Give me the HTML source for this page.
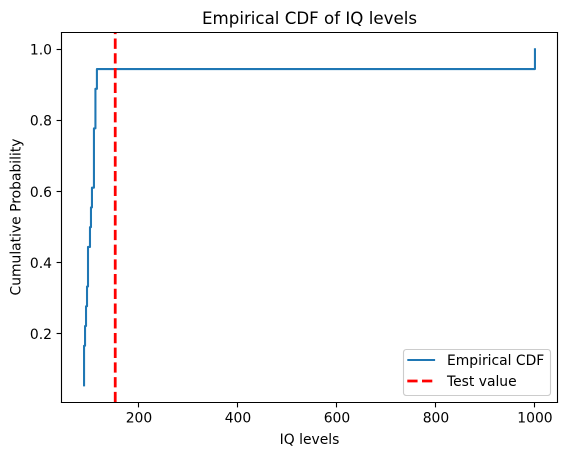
<!DOCTYPE html>
<html>
<head>
<meta charset="utf-8">
<title>Empirical CDF of IQ levels</title>
<style>
html,body{margin:0;padding:0;background:#fff;width:567px;height:455px;overflow:hidden}
svg{display:block}
text{font-family:"DejaVu Sans","Liberation Sans",sans-serif;fill:#000}
</style>
</head>
<body>
<svg id="chart" xmlns="http://www.w3.org/2000/svg" width="567" height="455" viewBox="0 0 567 455">
  <rect x="61.5" y="32.5" width="496" height="369.6" fill="#fff"/>
  <g id="series"></g>
  <g id="ticks"></g>
  <g fill="none" stroke="#000" stroke-width="1.11" stroke-linecap="square">
    <line x1="61.5" y1="32.5" x2="61.5" y2="402.5"/>
    <line x1="557.5" y1="32.5" x2="557.5" y2="402.5"/>
    <line x1="61.5" y1="32.5" x2="557.5" y2="32.5"/>
    <line x1="61.5" y1="402.5" x2="557.5" y2="402.5"/>
  </g>
  <text x="309.5" y="24" text-anchor="middle" font-size="16.67">Empirical CDF of IQ levels</text>
  <text x="309.5" y="444" text-anchor="middle" font-size="13.89">IQ levels</text>
  <text transform="translate(20.5,217) rotate(-90)" text-anchor="middle" font-size="13.89">Cumulative Probability</text>
  <g>
    <rect x="403.5" y="349.5" width="147" height="46" rx="2.8" ry="2.8" fill="#fff" fill-opacity="0.8" stroke="#ccc" stroke-width="1.11"/>
    <line x1="407.3" y1="360" x2="435.1" y2="360" stroke="#1f77b4" stroke-width="2.08"/>
    <text x="447" y="365" font-size="13.89">Empirical CDF</text>
    <line x1="407.3" y1="381" x2="435.1" y2="381" stroke="#f00" stroke-width="2.78" stroke-dasharray="10.28 4.44"/>
    <text x="447" y="386" font-size="13.89">Test value</text>
  </g>
</svg>
<script>
const iqValues = [89, 89, 89, 91, 93, 95, 97, 97, 101, 103, 105, 109, 109, 109, 112, 112, 115, 1000];
const testValue = 152;
const xTickValues = [200, 400, 600, 800, 1000];
const yTickValues = [0.2, 0.4, 0.6, 0.8, 1.0];
const yTickLabels = ['0.2', '0.4', '0.6', '0.8', '1.0'];

const NS = 'http://www.w3.org/2000/svg';
const plot = { left: 61.5, right: 557.5, top: 32.5, bottom: 402.1 };
const n = iqValues.length;
const xMin = Math.min(...iqValues), xMax = Math.max(...iqValues);
const yMin = 1 / n, yMax = 1;
const xPad = (xMax - xMin) * 0.05, yPad = (yMax - yMin) * 0.05;
function xScale(v) {
  return plot.left + (v - (xMin - xPad)) / ((xMax + xPad) - (xMin - xPad)) * (plot.right - plot.left);
}
function yScale(v) {
  return plot.bottom - (v - (yMin - yPad)) / ((yMax + yPad) - (yMin - yPad)) * (plot.bottom - plot.top);
}
function make(tag, attrs, parent) {
  const el = document.createElementNS(NS, tag);
  for (const k in attrs) el.setAttribute(k, attrs[k]);
  parent.appendChild(el);
  return el;
}
const series = document.getElementById('series');
const ticks = document.getElementById('ticks');

let d = 'M' + xScale(iqValues[0]).toFixed(2) + ' ' + yScale(1 / n).toFixed(2);
for (let i = 1; i < n; i++) {
  const px = xScale(iqValues[i]).toFixed(2);
  d += ' L' + px + ' ' + yScale(i / n).toFixed(2);
  d += ' L' + px + ' ' + yScale((i + 1) / n).toFixed(2);
}
const ecdfLine = make('path', { d: d, fill: 'none', stroke: '#1f77b4', 'stroke-width': 2.08, 'stroke-linejoin': 'round', 'stroke-linecap': 'square' }, series);



const testLine = make('line', { x1: xScale(testValue), x2: xScale(testValue), y1: plot.bottom, y2: plot.top, stroke: '#f00', 'stroke-width': 2.78, 'stroke-dasharray': '10.28 4.44' }, series);



xTickValues.forEach(function (v) {
  const x = Math.round(xScale(v) - 0.5) + 0.5;
  const tick = make('line', { x1: x, x2: x, y1: 402.5, y2: 407.4, stroke: '#000', 'stroke-width': 1.11 }, ticks);
  
  
  const label = make('text', { x: xScale(v), y: 422.5, 'text-anchor': 'middle', 'font-size': 13.89 }, ticks);
  label.textContent = String(v);
  
  
});
yTickValues.forEach(function (v, i) {
  const y = Math.round(yScale(v) - 0.5) + 0.5;
  const tick = make('line', { x1: 56.6, x2: 61.5, y1: y, y2: y, stroke: '#000', 'stroke-width': 1.11 }, ticks);
  
  
  const label = make('text', { x: 52, y: yScale(v) + 5.2, 'text-anchor': 'end', 'font-size': 13.89 }, ticks);
  label.textContent = yTickLabels[i];
  
  
});
</script>
</body>
</html>
